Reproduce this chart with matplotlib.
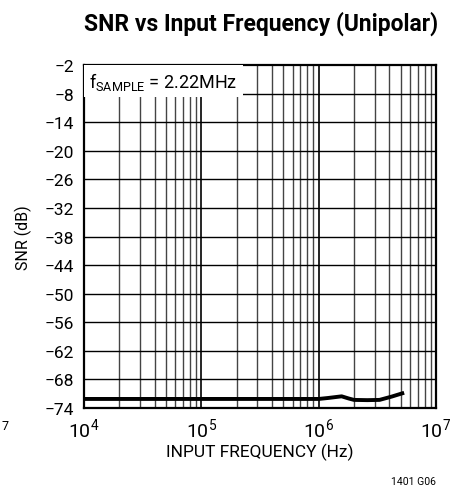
import matplotlib
matplotlib.use("Agg")
import matplotlib.pyplot as plt
import numpy as np
from matplotlib.ticker import FixedLocator, NullFormatter

plt.rcParams['font.family'] = ['Roboto', 'DejaVu Sans']
plt.rcParams['mathtext.fontset'] = 'custom'
plt.rcParams['mathtext.rm'] = 'Roboto'
plt.rcParams['mathtext.it'] = 'Roboto'
plt.rcParams['mathtext.bf'] = 'Roboto:bold'

freq_hz = [1e4, 3e4, 1e5, 3e5, 1e6, 1.2e6, 1.57e6, 1.8e6, 2e6, 2.6e6, 3.3e6, 4.2e6, 5.35e6]
snr_db = [-72.1, -72.1, -72.1, -72.1, -72.1, -71.9, -71.55, -72.0, -72.3, -72.35, -72.3, -71.6, -70.8]

y_ticks = [-2, -8, -14, -20, -26, -32, -38, -44, -50, -56, -62, -68, -74]
x_major = [1e4, 1e5, 1e6, 1e7]
x_labels = [r'$\mathregular{10^4}$', r'$\mathregular{10^5}$', r'$\mathregular{10^6}$', r'$\mathregular{10^7}$']

fig = plt.figure(figsize=(4.51, 4.89), dpi=100)
W, H = 451, 489
ax = fig.add_axes([84 / W, 1 - 409 / H, (436 - 84) / W, (409 - 66) / H])

ax.set_xscale('log')
ax.set_xlim(1e4, 1e7)
ax.set_ylim(-74, -2)

# grid
minors = [m * 10 ** d for d in range(4, 7) for m in range(2, 10)]
for xv in minors:
    ax.axvline(xv, color='#444444', lw=1.0, zorder=1)
for xv in x_major[1:-1]:
    ax.axvline(xv, color='black', lw=1.2, zorder=1)
for yv in y_ticks[1:-1]:
    ax.axhline(yv, color='black', lw=1.0, zorder=1)

ax.plot(freq_hz, snr_db, color='black', lw=2.8, zorder=3, solid_capstyle='butt')

ax.set_yticks(y_ticks)
ax.set_yticklabels([str(v).replace('-', '\u2212') for v in y_ticks], fontsize=12.5)
ax.xaxis.set_major_locator(FixedLocator(x_major))
ax.set_xticklabels(x_labels, fontsize=14)
ax.xaxis.set_minor_formatter(NullFormatter())
ax.tick_params(axis='both', which='both', length=0)
ax.tick_params(axis='y', pad=7)
ax.tick_params(axis='x', pad=6)
for s in ax.spines.values():
    s.set_linewidth(1.6)

ax.set_xlabel('INPUT FREQUENCY (Hz)', fontsize=12.5, labelpad=2)
ax.set_ylabel('SNR (dB)', fontsize=11.5, labelpad=9)

ax.text(0.015, 0.985, r'f$_{\mathregular{SAMPLE}}$ = 2.22MHz', transform=ax.transAxes,
        fontsize=13, va='top', ha='left', zorder=4,
        bbox=dict(facecolor='white', edgecolor='none', pad=3.5))

fig.text(261 / W, 1 - 24 / H, 'SNR vs Input Frequency (Unipolar)', fontsize=16.5,
         fontweight='bold', ha='center', va='center')
fig.text(436 / W, 1 - 482 / H, '1401 G06', fontsize=7.5, ha='right', va='center')
fig.text(2 / W, 1 - 427 / H, '7', fontsize=9, ha='left', va='center')

fig.savefig('out.png', dpi=100)
